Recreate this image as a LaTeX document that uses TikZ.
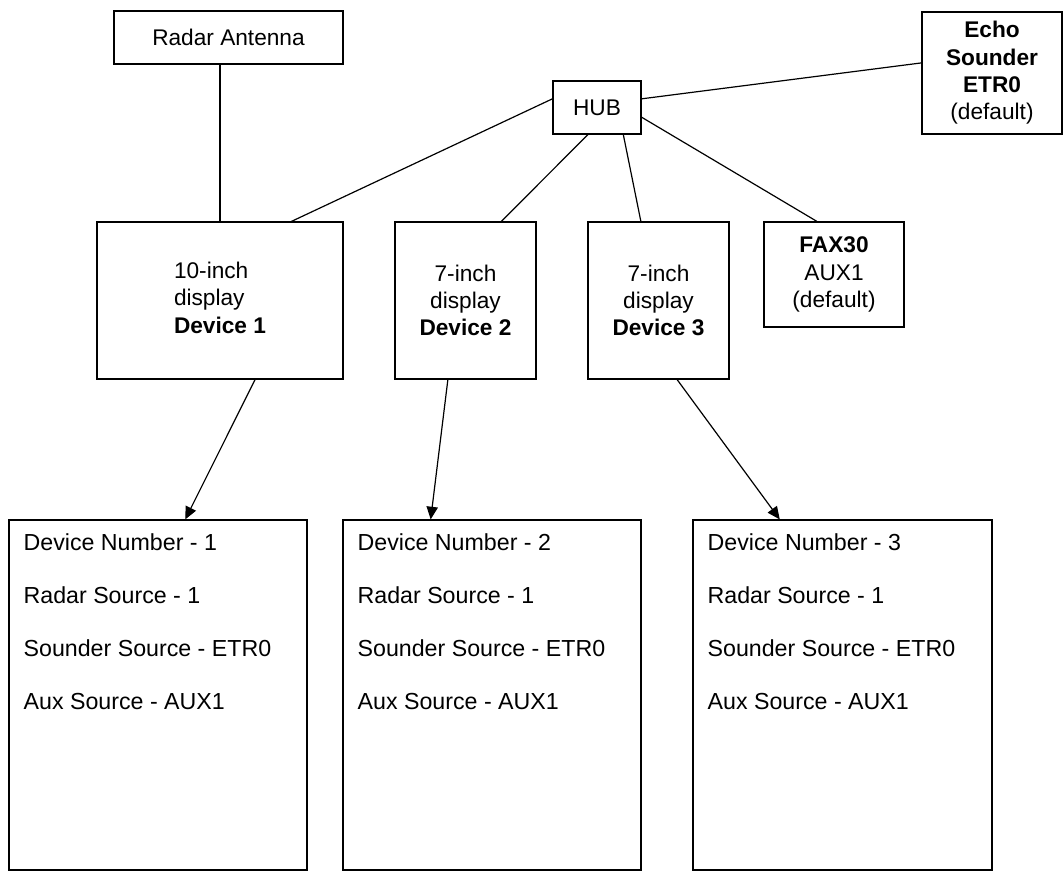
\documentclass[tikz,border=0pt]{standalone}
\usepackage{fontspec}
\setmainfont{Liberation Sans}
\usetikzlibrary{arrows.meta,calc}
\begin{document}
\begin{tikzpicture}[x=0.75pt,y=-0.75pt,
  box/.style={draw=black,line width=0.9pt,rectangle,inner sep=0pt,align=center,
    font=\fontsize{17}{20.5}\selectfont},
  link/.style={draw=black,line width=0.9pt},
  arr/.style={link,-{Triangle[length=9.5pt,width=8.5pt]}},
  info/.style={anchor=north west,inner sep=0pt,align=left,
    font=\fontsize{17.4}{39.75}\selectfont}]
\useasboundingbox (0,0) rectangle (1064,876);
% top row
\node[box,minimum width=171.75pt,minimum height=39.75pt] (ant) at (228.5,37.5) {Radar Antenna};
\node[box,minimum width=66pt,minimum height=39.75pt] (hub) at (597,107.5) {HUB};
\node[box,minimum width=105pt,minimum height=91.5pt] (echo) at (992,73)
  {\textbf{Echo}\\\textbf{Sounder}\\\textbf{ETR0}\\(default)};
% displays
\node[box,minimum width=184.5pt,minimum height=117.75pt] (d1) at (220,300.5)
  {\begin{tabular}{@{}l@{}}10-inch\\display\\\textbf{Device 1}\end{tabular}};
\node[box,minimum width=105.75pt,minimum height=117.75pt] (d2) at (465.5,300.5)
  {7-inch\\display\\\textbf{Device 2}};
\node[box,minimum width=105.75pt,minimum height=117.75pt] (d3) at (658.5,300.5)
  {7-inch\\display\\\textbf{Device 3}};
\node[box,minimum width=105pt,minimum height=78.75pt] (fax) at (834,274.5)
  {\textbf{FAX30}\\AUX1\\(default)};
% settings boxes
\node[box,minimum width=223.5pt,minimum height=262.5pt] (b1) at (158,695) {};
\node[box,minimum width=223.5pt,minimum height=262.5pt] (b2) at (492,695) {};
\node[box,minimum width=224.25pt,minimum height=262.5pt] (b3) at (842.5,695) {};
\foreach \b/\n in {b1/1,b2/2,b3/3}{
  \node[info] (t\n) at ($(\b.north west)+(15,14)$)
    {Device Number - \n\\Radar Source - 1\\Sounder Source - ETR0\\Aux Source - AUX1};
}
% connectors
\draw[link] (ant.south -| d1.north) -- (d1.north);
\draw[link] ($(hub.north west)!0.34!(hub.south west)$) -- ($(d1.north west)!0.789!(d1.north east)$);
\draw[link] ($(hub.north east)!0.34!(hub.south east)$) -- ($(echo.north west)!0.418!(echo.south west)$);
\draw[link] ($(hub.south west)!0.398!(hub.south east)$) -- ($(d2.north west)!0.752!(d2.north east)$);
\draw[link] ($(hub.south west)!0.795!(hub.south east)$) -- ($(d3.north west)!0.376!(d3.north east)$);
\draw[link] ($(hub.north east)!0.679!(hub.south east)$) -- ($(fax.north west)!0.379!(fax.north east)$);
\draw[arr] ($(d1.south west)!0.642!(d1.south east)$) -- ($(b1.north west)!0.591!(b1.north east)$);
\draw[arr] ($(d2.south west)!0.376!(d2.south east)$) -- ($(b2.north west)!0.295!(b2.north east)$);
\draw[arr] ($(d3.south west)!0.631!(d3.south east)$) -- ($(b3.north west)!0.291!(b3.north east)$);
\end{tikzpicture}
\end{document}
